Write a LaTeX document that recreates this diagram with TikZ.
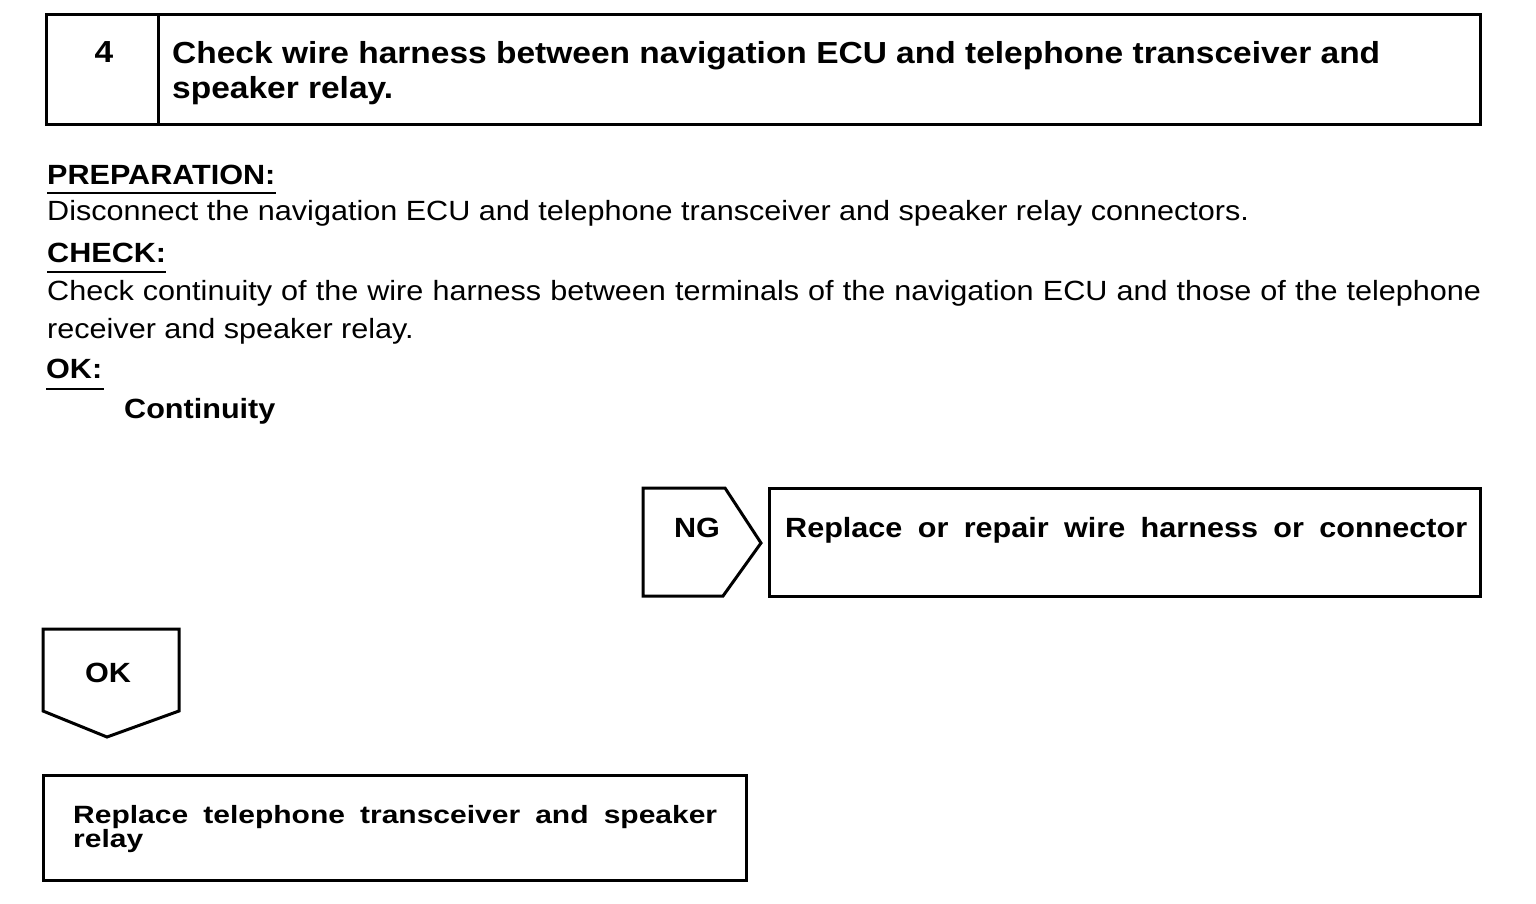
\documentclass[tikz,border=0pt]{standalone}
\usepackage{fontspec}
\setmainfont{Liberation Sans}[FakeStretch=1.1]
\newfontfamily\widefont{Liberation Sans}[FakeStretch=1.2]
\usetikzlibrary{positioning}
\newcommand{\bodysize}{\fontsize{27.8}{33}\selectfont}
\newcommand{\titlesize}{\fontsize{30.45}{35}\selectfont}
\newcommand{\boxsize}{\widefont\fontsize{25}{30}\selectfont}

\begin{document}
\begin{tikzpicture}[x=1pt,y=-1pt,
        txt/.style={anchor=base west,inner sep=0pt,font=\bodysize},
        head/.style={txt,font=\bodysize\bfseries},
        frame/.style={line width=3pt,line join=miter},
        uline/.style={line width=2pt}]
            \useasboundingbox (0,0) rectangle (1536,904);

            % step header
            \draw [frame] (46,15) rectangle (1480,125);
            \draw [frame] (158,15) -- (158,125);
            \node [anchor=base,inner sep=0pt,font=\titlesize\bfseries] (num) at (104,63) {4};
            \node [txt,font=\titlesize\bfseries] (title1) at (172,64) {Check wire harness between navigation ECU and telephone transceiver and};
            \node [txt,font=\titlesize\bfseries] (title2) at (172,99) {speaker relay.};

            % procedure text
            \node [head] (prep) at (47,185) {PREPARATION:};
            \node [txt] (disc) at (47,221) {Disconnect the navigation ECU and telephone transceiver and speaker relay connectors.};
            \node [head] (check) at (47,262) {CHECK:};
            \node [txt] (cont1) at (47,300) {\makebox[1434pt][s]{Check continuity of the wire harness between terminals of the navigation ECU and those of the telephone}};
            \node [txt] (cont2) at (47,338) {receiver and speaker relay.};
            \node [head] (okhead) at (46,378) {OK:};
            \node [head] (contin) at (124,418) {Continuity};

            \draw [uline] ([yshift=-8pt]prep.base west) -- ([yshift=-8pt]prep.base east);
            \draw [uline] ([yshift=-10pt]check.base west) -- ([yshift=-10pt]check.base east);
            \draw [uline] ([yshift=-11pt]okhead.base west) -- ([yshift=-11pt,xshift=2pt]okhead.base east);

            % NG branch
            \draw [frame] (643,488) -- (725,488) -- (761,543) -- (723,596) -- (643,596) -- cycle;
            \node [anchor=base,inner sep=0pt,font=\bodysize\bfseries] (ng) at (697,537) {NG};
            \draw [frame] (769,488) rectangle (1480,596);
            \node [head] (repair) at (785,537) {\makebox[682pt][s]{Replace or repair wire harness or connector}};

            % OK branch
            \draw [frame] (43,629) -- (179,629) -- (179,711) -- (107,737) -- (43,711) -- cycle;
            \node [anchor=base,inner sep=0pt,font=\bodysize\bfseries] (ok) at (108,682) {OK};
            \draw [frame] (43,775) rectangle (746,880);
            \node [head,font=\boxsize\bfseries] (repl1) at (73,823) {\makebox[644pt][s]{Replace telephone transceiver and speaker}};
            \node [head,font=\boxsize\bfseries] (repl2) at (73,847) {relay};
        \end{tikzpicture}
\end{document}
